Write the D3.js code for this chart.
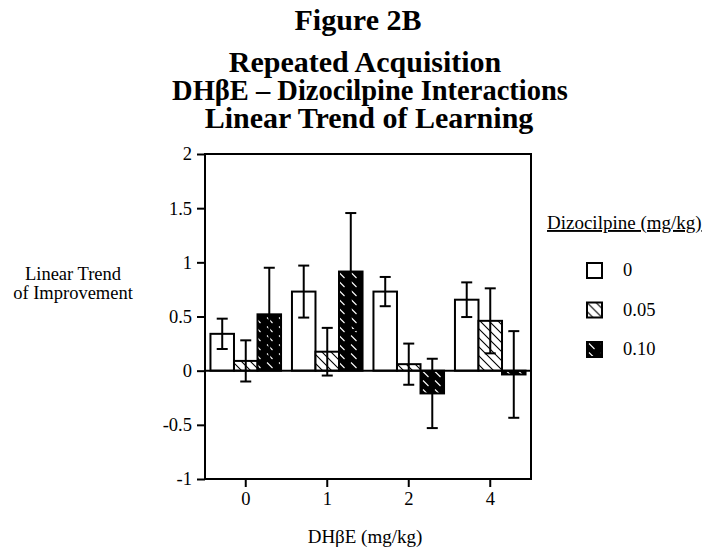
<!DOCTYPE html>
<html>
<head>
<meta charset="utf-8">
<script src="https://cdn.jsdelivr.net/npm/d3@7"></script>
<style>
  body { margin: 0; background: #fff; }
  text { font-family: "Liberation Serif", "Times New Roman", serif; fill: #000; }
</style>
</head>
<body>
<div id="chart"></div>
<script>

    // Data
    var doses = ["0", "1", "2", "4"];                 // DHbE (mg/kg)
    var dizo = ["0", "0.05", "0.10"];                 // Dizocilpine (mg/kg)
    var mean0 = [0.34, 0.73, 0.73, 0.655];
    var mean005 = [0.09, 0.175, 0.06, 0.46];
    var mean010 = [0.52, 0.915, -0.21, -0.035];
    var sem0 = [0.14, 0.24, 0.135, 0.16];
    var sem005 = [0.19, 0.22, 0.19, 0.30];
    var sem010 = [0.43, 0.54, 0.32, 0.40];
    var yTicks = [-1, -0.5, 0, 0.5, 1, 1.5, 2];

    var means = [mean0, mean005, mean010];
    var sems = [sem0, sem005, sem010];

    var barData = [];
    doses.forEach(function(dose, i) {
        dizo.forEach(function(dz, j) {
            barData.push({ dose: dose, dizo: dz, mean: means[j][i], sem: sems[j][i] });
        });
    });

    var W = 704, H = 550;
    var margin = {top: 154, right: 173, bottom: 71, left: 205},
        width = W - margin.left - margin.right,
        height = H - margin.top - margin.bottom;

    var svg = d3.select("#chart").append("svg")
        .attr("width", W)
        .attr("height", H);

    // Fill patterns
    var defs = svg.append("defs");
    var p1 = defs.append("pattern")
        .attr("id", "hatch")
        .attr("patternUnits", "userSpaceOnUse")
        .attr("width", 9).attr("height", 9);
    p1.append("rect").attr("width", 9).attr("height", 9).attr("fill", "#fff");
    p1.append("path").attr("d", "M-1,-1 L10,10 M-1,8 L1,10 M8,-1 L10,1")
        .attr("stroke", "#000").attr("stroke-width", 1.1);

    var p2 = defs.append("pattern")
        .attr("id", "darkhatch")
        .attr("patternUnits", "userSpaceOnUse")
        .attr("width", 12).attr("height", 9);
    p2.append("rect").attr("width", 12).attr("height", 9).attr("fill", "#000");
    p2.append("path").attr("d", "M2,1.5 L7.5,7")
        .attr("stroke", "#fff").attr("stroke-width", 1.1);

    var fills = { "0": "#fff", "0.05": "url(#hatch)", "0.10": "url(#darkhatch)" };

    // Titles
    var titles = ["Figure 2B", "Repeated Acquisition", "DH\u03B2E \u2013 Dizocilpine Interactions", "Linear Trend of Learning"];
    var titleY = [30, 72, 100, 128];
    var titleX = [358, 365, 370, 369];
    var titleSize = [30, 30, 28.5, 30];
    svg.selectAll("text.title")
        .data(titles)
        .enter()
        .append("text")
        .attr("class", "title")
        .attr("x", function(d, i) { return titleX[i]; })
        .attr("y", function(d, i) { return titleY[i]; })
        .attr("text-anchor", "middle")
        .style("font-size", function(d, i) { return titleSize[i] + "px"; })
        .style("font-weight", "bold")
        .text(function(d) { return d; });

    var g = svg.append("g")
        .attr("transform", "translate(" + margin.left + "," + margin.top + ")");

    var x0 = d3.scaleBand()
        .domain(doses)
        .range([0, width])
        .paddingInner(0.134)
        .paddingOuter(0.067);

    var x1 = d3.scaleBand()
        .domain(dizo)
        .range([0, x0.bandwidth()]);

    var y = d3.scaleLinear()
        .domain([-1, 2])
        .range([height, 0]);

    // Bars
    g.selectAll("rect.bar")
        .data(barData)
        .enter()
        .append("rect")
        .attr("class", "bar")
        .attr("x", function(d) { return x0(d.dose) + x1(d.dizo); })
        .attr("y", function(d) { return y(Math.max(0, d.mean)); })
        .attr("width", x1.bandwidth())
        .attr("height", function(d) { return Math.abs(y(d.mean) - y(0)); })
        .attr("fill", function(d) { return fills[d.dizo]; })
        .attr("stroke", "#000")
        .attr("stroke-width", 2);

    // Error bars
    var capW = 11;
    var err = g.selectAll("g.err")
        .data(barData)
        .enter()
        .append("g")
        .attr("class", "err")
        .attr("transform", function(d) {
            return "translate(" + (x0(d.dose) + x1(d.dizo) + x1.bandwidth() / 2) + ",0)";
        });
    err.append("line")
        .attr("y1", function(d) { return y(d.mean + d.sem); })
        .attr("y2", function(d) { return y(d.mean - d.sem); })
        .attr("stroke", "#000").attr("stroke-width", 2);
    err.append("line")
        .attr("x1", -capW / 2).attr("x2", capW / 2)
        .attr("y1", function(d) { return y(d.mean + d.sem); })
        .attr("y2", function(d) { return y(d.mean + d.sem); })
        .attr("stroke", "#000").attr("stroke-width", 2);
    err.append("line")
        .attr("x1", -capW / 2).attr("x2", capW / 2)
        .attr("y1", function(d) { return y(d.mean - d.sem); })
        .attr("y2", function(d) { return y(d.mean - d.sem); })
        .attr("stroke", "#000").attr("stroke-width", 2);

    // Zero line
    g.append("line")
        .attr("x1", 0).attr("x2", width)
        .attr("y1", y(0)).attr("y2", y(0))
        .attr("stroke", "#000").attr("stroke-width", 2);

    // Frame
    g.append("rect")
        .attr("width", width).attr("height", height)
        .attr("fill", "none")
        .attr("stroke", "#000").attr("stroke-width", 2);

    // Axes
    var yAxis = g.append("g")
        .call(d3.axisLeft(y).tickValues(yTicks).tickSize(8).tickPadding(5)
            .tickFormat(function(d) { return String(d); }));
    var xAxis = g.append("g")
        .attr("transform", "translate(0," + height + ")")
        .call(d3.axisBottom(x0).tickSize(8).tickPadding(5));

    [yAxis, xAxis].forEach(function(ax) {
        ax.select(".domain").remove();
        ax.selectAll(".tick line").attr("stroke", "#000").attr("stroke-width", 2);
        ax.selectAll(".tick text")
            .attr("fill", "#000")
            .style("font-family", "'Liberation Serif', serif")
            .style("font-size", "18.5px");
    });

    // Axis labels
    var ylab = svg.append("text")
        .attr("text-anchor", "middle")
        .style("font-size", "18.5px");
    ylab.append("tspan").attr("x", 73).attr("y", 280).text("Linear Trend");
    ylab.append("tspan").attr("x", 73).attr("y", 299).text("of Improvement");

    svg.append("text")
        .attr("x", 365)
        .attr("y", 543)
        .attr("text-anchor", "middle")
        .style("font-size", "19px")
        .text("DH\u03B2E (mg/kg)");

    // Legend
    svg.append("text")
        .attr("x", 547)
        .attr("y", 229)
        .style("font-size", "19px")
        .style("text-decoration", "underline")
        .text("Dizocilpine (mg/kg)");

    var legend = svg.selectAll("g.legend")
        .data(dizo)
        .enter()
        .append("g")
        .attr("class", "legend")
        .attr("transform", function(d, i) { return "translate(587," + (263 + i * 39.5) + ")"; });
    legend.append("rect")
        .attr("width", 15).attr("height", 15)
        .attr("fill", function(d) { return fills[d]; })
        .attr("stroke", "#000").attr("stroke-width", 2);
    legend.append("text")
        .attr("x", 36)
        .attr("y", 13)
        .style("font-size", "18.5px")
        .text(function(d) { return d; });

</script>
</body>
</html>
